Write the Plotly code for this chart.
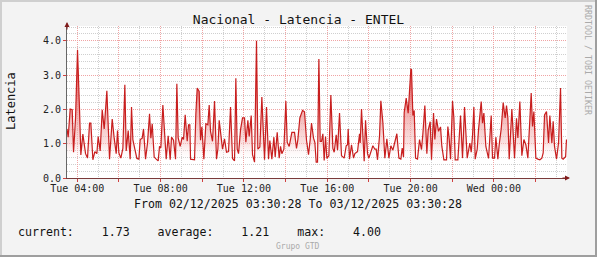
import pandas as pd
import plotly.graph_objects as go

# ---------------- data ----------------
start_time = "2025-12-02 03:30:28"
end_time = "2025-12-03 03:30:28"

# minutes after start_time
minutes = [
    0, 3.4, 9.2, 15.0, 18.8, 24.6, 30.3, 34.2, 36.1, 39.9, 45.7, 53.4, 59.1, 64.9, 68.7, 74.5,
    80.2, 86.0, 89.8, 95.6, 101.4, 107.1, 114.8, 122.5, 130.2, 135.9, 141.7, 145.5, 149.4, 155.1,
    160.9, 166.6, 170.5, 176.2, 182.0, 185.8, 189.7, 195.4, 201.2, 207.0, 210.8, 216.6, 220.4,
    226.2, 231.9, 237.7, 241.5, 245.4, 251.1, 256.9, 262.6, 266.5, 270.3, 276.1, 279.9, 285.7,
    291.4, 297.2, 301.0, 306.8, 312.6, 316.4, 320.2, 326.0, 331.8, 335.6,
    340.4, 346.2, 350.0, 353.8, 355.8, 367.3, 371.1, 375.0, 380.7, 384.6, 388.4, 394.2, 399.9,
    405.7, 409.5, 413.4, 419.1, 424.9, 430.6, 434.5, 438.3, 444.1, 447.9, 453.7, 459.4, 465.2,
    471.0, 476.7, 482.5, 486.3, 490.2, 494.0, 499.8, 505.5, 511.3, 515.1, 520.9, 524.7, 530.5,
    534.3, 540.1, 545.8, 549.7, 555.4, 561.2, 568.9, 574.6, 580.4, 584.2, 590.0, 595.8, 599.6,
    605.4, 611.1, 615.0, 618.8, 624.6, 630.3, 634.2, 639.9, 647.6, 655.3, 661.0, 664.9, 670.6,
    678.3, 684.1, 689.8, 695.6,
    700.4, 704.2, 710.0, 713.8, 717.7, 721.5, 725.4, 729.2, 733.0, 736.9, 740.7, 744.6, 748.4,
    754.2, 759.9, 765.7, 769.5, 775.3, 779.1, 784.9, 790.6, 798.3, 804.1, 807.9, 809.8, 813.7,
    819.4, 825.2, 829.0, 832.9, 836.7, 842.5, 844.4, 848.2, 855.9, 859.8, 865.5, 869.4, 875.1,
    880.9, 886.6, 890.5, 894.3, 900.1, 903.9, 909.7, 915.4, 921.2, 927.0, 932.7, 938.5, 950.0,
    955.8, 961.5, 965.4, 969.2, 971.1, 976.9, 982.6, 990.3, 992.2, 996.1, 999.9, 1003.8, 1009.5,
    1015.3, 1021.0, 1024.9, 1030.6, 1036.4, 1040.2, 1046.0, 1049.8, 1055.6, 1059.4,
    1064.2, 1070.0, 1075.8, 1079.6, 1085.4, 1093.0, 1096.9, 1100.7, 1104.6, 1110.3, 1114.2,
    1118.0, 1125.7, 1133.4, 1139.1, 1144.9, 1152.6, 1160.2, 1164.1, 1167.9, 1171.8, 1175.6,
    1181.4, 1185.2, 1192.9, 1196.7, 1200.6, 1206.3, 1214.0, 1221.7, 1225.5, 1231.3, 1235.1,
    1240.9, 1244.7, 1250.5, 1256.2, 1262.0, 1265.8, 1269.7, 1273.5, 1281.2, 1288.9, 1294.6,
    1298.5, 1304.2, 1310.0, 1315.8, 1321.5, 1327.3, 1336.9, 1340.7, 1344.6, 1350.3, 1356.1,
    1361.8, 1367.6, 1371.4, 1375.3, 1381.0, 1386.8, 1390.6, 1396.4, 1400.2, 1404.1, 1409.8,
    1415.6, 1421.4, 1425.2, 1429.0, 1432.9, 1436.0, 1438.5,
]

latency = [
    1.43, 1.19, 2.01, 1.99, 0.75, 1.75, 3.74, 1.99, 1.99, 0.67, 1.28, 0.71, 0.58, 1.60, 1.60, 0.53,
    0.77, 0.71, 1.21, 0.79, 1.99, 1.43, 2.54, 0.55, 1.72, 1.16, 0.71, 1.38, 0.73, 0.58,
    0.86, 2.72, 0.79, 1.38, 0.55, 2.07, 1.12, 0.84, 0.57, 0.55, 1.12, 1.16, 1.43,
    0.55, 1.02, 1.87, 1.16, 1.58, 0.61, 0.55, 0.50, 0.92, 0.88, 2.13, 1.50, 0.55,
    1.23, 0.53, 1.19, 1.10, 0.55, 2.75, 1.17, 0.92, 1.19, 1.12,
    1.84, 1.07, 1.55, 1.55, 0.55, 0.53, 1.87, 2.62, 2.52, 1.10, 1.49, 0.55, 1.58,
    1.55, 2.13, 1.36, 1.07, 2.24, 0.55, 0.84, 1.68, 1.21, 0.84, 1.14, 0.75, 0.77,
    2.07, 0.57, 0.50, 2.91, 0.84, 0.71, 1.41, 1.75, 1.75, 1.04, 1.68, 1.21, 1.82,
    0.68, 0.46, 4.00, 0.84, 0.90, 2.36, 0.53, 2.07, 0.55, 1.09, 0.55, 1.19, 0.61,
    1.33, 0.58, 0.92, 0.71, 0.84, 2.24, 1.04, 0.92, 1.33, 1.33, 0.86, 1.12, 1.75,
    1.97, 1.93, 1.10, 0.68,
    1.12, 1.60, 1.16, 1.04, 0.46, 0.46, 3.47, 1.07, 1.07, 1.29, 0.51, 1.21, 0.57,
    0.65, 2.42, 0.86, 0.75, 1.26, 0.81, 1.89, 0.65, 0.58, 0.94, 0.97, 1.43, 0.55,
    0.97, 0.58, 0.71, 0.75, 0.77, 1.29, 1.02, 2.01, 0.49, 1.68, 0.71, 0.58, 0.73,
    0.94, 0.84, 0.84, 0.53, 1.23, 2.25, 1.62, 0.58, 1.14, 0.58, 0.94, 0.81, 1.29,
    0.58, 0.55, 0.87, 0.61, 1.91, 2.33, 1.89, 3.17, 3.16, 1.82, 1.97, 0.58, 0.55,
    1.12, 0.83, 1.29, 2.11, 0.71, 1.39, 1.64, 0.53, 1.89, 1.12,
    1.72, 1.36, 1.49, 0.92, 0.53, 0.53, 1.50, 1.14, 0.55, 2.24, 1.75,
    0.53, 0.53, 1.82, 0.58, 2.07, 0.58, 1.02, 0.75, 1.23, 2.07, 0.55,
    0.84, 1.41, 2.23, 1.60, 1.89, 0.92, 0.57, 1.82, 0.58, 0.58, 1.19,
    0.55, 0.97, 1.43, 2.20, 1.75, 2.11, 1.75, 0.55, 2.01, 0.58, 1.74,
    1.17, 2.23, 0.65, 1.12, 0.97, 0.58, 2.48, 1.50, 1.94, 0.58, 0.55,
    0.53, 0.58, 0.73, 1.84, 1.94, 1.02, 1.82, 1.02, 1.65, 0.92, 0.55,
    1.02, 2.62, 0.58, 0.55, 0.59, 0.62, 1.12,
]

tick_values = [
    "2025-12-02 04:00", "2025-12-02 06:00", "2025-12-02 08:00", "2025-12-02 10:00",
    "2025-12-02 12:00", "2025-12-02 14:00", "2025-12-02 16:00", "2025-12-02 18:00",
    "2025-12-02 20:00", "2025-12-02 22:00", "2025-12-03 00:00", "2025-12-03 02:00",
]
tick_labels = [
    "Tue 04:00", "", "Tue 08:00", "", "Tue 12:00", "", "Tue 16:00", "",
    "Tue 20:00", "", "Wed 00:00", "",
]

stat_names = ["current:", "average:", "max:"]
stat_values = [1.73, 1.21, 4.00]

title_text = "Nacional - Latencia - ENTEL"
y_title = "Latencia"
range_text = "From 02/12/2025 03:30:28 To 03/12/2025 03:30:28"
footer_text = "Grupo GTD"
watermark = "RRDTOOL / TOBI OETIKER"

# ---------------- figure ----------------
times = pd.Timestamp(start_time) + pd.to_timedelta(minutes, unit="m")

W, H = 597, 257
ML, MR, MT, MB = 67, 30, 26, 79
PW, PH = W - ML - MR, H - MT - MB


def px(xp):
    return (xp - ML) / PW


def py(yp):
    return (H - MB - yp) / PH


MONO = "DejaVu Sans Mono"

fig = go.Figure()
fig.add_trace(go.Scatter(
    x=times, y=latency, mode="lines",
    line=dict(color="#c81e1e", width=1.2),
    fill="tozeroy",
    fillgradient=dict(
        type="vertical", start=0.5, stop=4.0,
        colorscale=[[0, "rgba(255,255,255,0)"], [0.15, "rgba(245,195,195,0.5)"],
                    [0.5, "rgba(235,125,125,0.8)"], [1, "rgba(210,40,40,0.95)"]],
    ),
    hoverinfo="skip", showlegend=False,
))

grid_major = "#f0a4a4"
grid_minor = "#cfcfcf"
dots = "1px,1px"

fig.update_xaxes(
    type="date",
    range=[start_time, end_time],
    tickvals=tick_values, ticktext=tick_labels,
    showgrid=True, gridcolor=grid_major, griddash=dots, gridwidth=1,
    ticks="outside", ticklen=3, tickcolor="#d04040",
    ticklabelstandoff=-2,
    minor=dict(dtick=3600000, tick0="2025-12-02 04:00", showgrid=True,
               gridcolor=grid_minor, griddash=dots, ticks=""),
    showline=True, linecolor="#7a3a3a", linewidth=1,
    tickfont=dict(family=MONO, size=10, color="#222"),
    zeroline=False,
)
fig.update_yaxes(
    range=[0, 4.43], dtick=1, tick0=0, tickformat=".1f",
    showgrid=True, gridcolor=grid_major, griddash=dots, gridwidth=1,
    ticks="outside", ticklen=3, tickcolor="#d04040",
    minor=dict(dtick=0.2, showgrid=True, gridcolor=grid_minor, griddash=dots, ticks=""),
    showline=True, linecolor="#666666", linewidth=1,
    tickfont=dict(family=MONO, size=10, color="#222"),
    zeroline=False,
)

stats_line = "\u00a0\u00a0\u00a0\u00a0".join(
    f"{n}\u00a0\u00a0\u00a0\u00a0{v:.2f}" for n, v in zip(stat_names, stat_values)
)

txt = dict(xref="paper", yref="paper", showarrow=False, xanchor="center", yanchor="middle")
annotations = [
    dict(txt, text=y_title, x=px(11), y=py(101), textangle=-90,
         font=dict(family=MONO, size=12, color="#111")),
    dict(txt, text=range_text, x=px(298), y=py(204),
         font=dict(family=MONO, size=11.6, color="#111")),
    dict(txt, text=stats_line, x=px(16), y=py(232), xanchor="left",
         font=dict(family=MONO, size=11.6, color="#111")),
    dict(txt, text=footer_text, x=px(298), y=py(246),
         font=dict(family=MONO, size=8, color="#aaaaaa")),
    dict(txt, text=watermark, x=px(588), y=py(60), textangle=90,
         font=dict(family=MONO, size=8.3, color="#aaaaaa")),
    # axis arrows
    dict(text="", x=0, y=1 + 4 / PH, xref="x domain", yref="y domain",
         ax=0, ay=9, showarrow=True, arrowhead=2, arrowsize=1, arrowwidth=1,
         arrowcolor="#7f1a1a"),
    dict(text="", x=1 + 3 / PW, y=0, xref="x domain", yref="y domain",
         ax=-9, ay=0, showarrow=True, arrowhead=2, arrowsize=1, arrowwidth=1,
         arrowcolor="#7f1a1a"),
]

shapes = [
    dict(type="rect", xref="paper", yref="paper", x0=px(0), x1=px(W), y0=py(0), y1=py(2),
         fillcolor="#cfcfcf", line=dict(width=0)),
    dict(type="rect", xref="paper", yref="paper", x0=px(0), x1=px(2), y0=py(0), y1=py(H),
         fillcolor="#cfcfcf", line=dict(width=0)),
    dict(type="rect", xref="paper", yref="paper", x0=px(0), x1=px(W), y0=py(H - 2), y1=py(H),
         fillcolor="#9e9e9e", line=dict(width=0)),
    dict(type="rect", xref="paper", yref="paper", x0=px(W - 2), x1=px(W), y0=py(0), y1=py(H),
         fillcolor="#9e9e9e", line=dict(width=0)),
]

fig.update_layout(
    width=W, height=H,
    margin=dict(l=ML, r=MR, t=MT, b=MB, pad=0),
    paper_bgcolor="#f3f3f3", plot_bgcolor="#ffffff",
    title=dict(text=title_text, x=0.5, xanchor="center", xref="container",
               y=1 - 19 / H, yref="container", yanchor="middle",
               font=dict(family=MONO, size=13, color="#111")),
    font=dict(family=MONO),
    annotations=annotations,
    shapes=shapes,
    showlegend=False,
)

fig.write_html("out.html", config={"displayModeBar": False})
